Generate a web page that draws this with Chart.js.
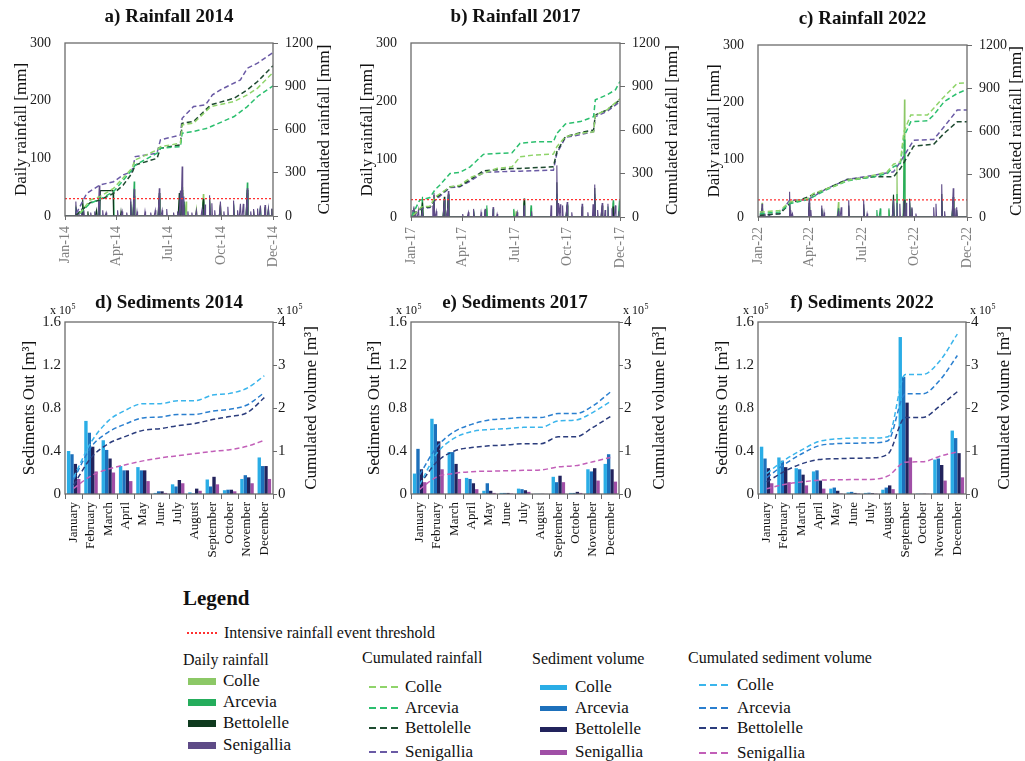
<!DOCTYPE html>
<html>
<head>
<meta charset="utf-8">
<title>Rainfall and sediments</title>
<script src="https://cdn.jsdelivr.net/npm/chart.js@4.4.1/dist/chart.umd.min.js"></script>
<style>
  body { margin: 0; background: #fff; }
  #page { position: relative; width: 1025px; height: 761px; overflow: hidden;
          font-family: "Liberation Serif", "Times New Roman", serif; color: #111; }
  #page canvas { position: absolute; }
  .txt { position: absolute; white-space: nowrap; font-size: 16px; line-height: 20px; }
  .item { font-size: 17px; }
  .sw { position: absolute; }
</style>
</head>
<body>
<div id="page">
  <canvas id="rain2014" width="345" height="270" style="left:0;top:0"></canvas>
  <canvas id="rain2017" width="345" height="270" style="left:345px;top:0"></canvas>
  <canvas id="rain2022" width="335" height="270" style="left:690px;top:0"></canvas>
  <canvas id="sed2014" width="345" height="300" style="left:0;top:270px"></canvas>
  <canvas id="sed2017" width="345" height="300" style="left:345px;top:270px"></canvas>
  <canvas id="sed2022" width="335" height="300" style="left:690px;top:270px"></canvas>
  <div id="legend"></div>
</div>
<script>
const FONT = '"Liberation Serif", "Times New Roman", serif';

// stazioni e categorie
const stations = ['Colle', 'Arcevia', 'Bettolelle', 'Senigallia'];
const months = ['January', 'February', 'March', 'April', 'May', 'June', 'July',
                'August', 'September', 'October', 'November', 'December'];
const rainTickDays = [0, 90, 181, 273, 364];
const rainTicks2014 = ['Jan-14', 'Apr-14', 'Jul-14', 'Oct-14', 'Dec-14'];
const rainTicks2017 = ['Jan-17', 'Apr-17', 'Jul-17', 'Oct-17', 'Dec-17'];
const rainTicks2022 = ['Jan-22', 'Apr-22', 'Jul-22', 'Oct-22', 'Dec-22'];
const threshold = 30; // mm, soglia evento intenso

// colori
const dailyColors = ['#8cc866', '#25ad5c', '#0e3a1e', '#5e4b87'];
const cumRainColors = ['#8fd46a', '#2bbf6e', '#1e4a30', '#6a5aa5'];
const sedColors = ['#2aade6', '#1d70bb', '#22235c', '#a04fa6'];
const cumSedColors = ['#3ab5ec', '#2a7fcf', '#2b3c7c', '#c25fb8'];

// pioggia giornaliera: [giorno, mm] oppure [da, a, mm]
const daily2014Colle = [[19,18],[31,22],[60,35],[121,45],[165,35],[205,50],[212,25],[230,13],[242,38],[253,30],[272,20],[319,40],[350,12]];
const daily2014Arcevia = [[19,15],[31,20],[60,30],[85,40],[115,20],[121,60],[165,30],[205,40],[209,25],[242,25],[253,25],[295,22],[319,58],[342,15],[356,12]];
const daily2014Bettolelle = [[20,10],[31,29],[40,8],[55,10],[62,84,44],[98,8],[115,25],[121,35],[165,40],[200,40],[205,45],[208,20],[242,30],[253,30],[272,20],[295,20],[319,45],[330,10],[350,15],[362,12]];
const daily2014Senigallia = [[19,25],[24,8],[29,13],[33,10],[45,6],[52,8],[60,53],[66,10],[72,6],[92,10],[100,8],[108,6],[115,30],[121,47],[126,8],[140,8],[150,6],[158,10],[165,48],[170,10],[178,12],[190,6],[197,8],[202,44],[205,86],[208,34],[215,8],[222,6],[230,10],[240,12],[245,20],[253,36],[257,22],[262,10],[272,25],[278,8],[285,16],[295,27],[302,10],[307,21],[312,21],[319,48],[325,8],[330,12],[337,13],[342,18],[350,19],[356,14],[362,13]];

const daily2017Colle = [[5,10],[20,30],[40,25],[58,28],[65,30],[132,15],[179,12],[183,10],[197,28],[209,16],[254,30],[320,35],[352,25],[364,20]];
const daily2017Arcevia = [[5,12],[20,35],[40,30],[58,30],[65,38],[109,12],[132,20],[143,14],[179,14],[197,25],[209,20],[254,40],[272,22],[320,40],[343,18],[352,29],[363,29]];
const daily2017Bettolelle = [[5,15],[20,25],[40,38],[58,35],[65,40],[109,10],[129,12],[197,32],[254,60],[272,20],[298,18],[320,50],[333,20],[352,18]];
const daily2017Senigallia = [[3,12],[5,18],[8,10],[13,12],[20,10],[38,20],[40,42],[44,10],[58,30],[63,10],[65,45],[90,5],[100,8],[109,14],[122,8],[129,14],[143,17],[150,5],[185,8],[197,20],[210,10],[244,20],[254,89],[257,24],[260,22],[264,20],[272,26],[280,8],[298,23],[308,8],[317,22],[320,56],[325,12],[333,24],[338,12],[343,23],[350,15],[356,20],[362,10]];

const daily2022Colle = [[7,25],[55,18],[89,15],[140,26],[184,12],[228,12],[242,90],[255,205],[264,20],[320,25],[340,28]];
const daily2022Arcevia = [[7,12],[55,20],[89,18],[111,12],[140,15],[184,15],[207,12],[213,15],[228,15],[236,30],[242,40],[255,135],[264,25],[320,30],[340,30]];
const daily2022Bettolelle = [[7,15],[55,30],[89,25],[111,15],[158,20],[184,22],[236,39],[255,30],[264,32],[268,15],[320,40],[340,35],[346,12]];
const daily2022Senigallia = [[5,10],[7,23],[12,6],[20,4],[55,44],[57,12],[60,6],[89,32],[92,12],[111,20],[115,8],[140,10],[145,17],[158,29],[184,30],[190,6],[236,30],[242,25],[247,23],[254,30],[258,25],[264,30],[268,17],[275,6],[306,17],[310,23],[320,57],[325,10],[340,50],[343,15],[346,17]];

// pioggia cumulata: [giorno, mm]
const cum2014Colle = [[26,18],[44,111],[61,134],[85,192],[117,331],[123,389],[161,458],[167,481],[202,505],[205,632],[225,644],[255,759],[296,794],[319,840],[337,887],[364,995]];
const cum2014Arcevia = [[26,18],[44,88],[61,116],[85,169],[117,319],[123,354],[161,435],[167,470],[202,481],[205,574],[225,586],[249,609],[296,690],[319,759],[337,829],[364,903]];
const cum2014Bettolelle = [[20,7],[44,92],[61,111],[85,157],[102,215],[117,296],[123,354],[161,400],[167,470],[202,493],[205,643],[225,655],[255,771],[296,817],[319,875],[337,933],[364,1042]];
const cum2014Senigallia = [[20,18],[38,157],[61,215],[85,238],[102,285],[117,308],[123,412],[161,435],[167,528],[202,562],[205,678],[225,759],[246,771],[258,840],[272,875],[307,944],[319,1025],[337,1060],[364,1134]];

const cum2017Colle = [[4,12],[18,69],[33,74],[42,138],[68,208],[85,219],[106,277],[126,300],[149,335],[176,346],[190,415],[213,427],[248,434],[254,485],[269,554],[295,577],[318,588],[321,704],[341,738],[364,815]];
const cum2017Arcevia = [[1,5],[15,115],[33,134],[42,189],[50,219],[68,300],[85,307],[103,346],[126,432],[149,438],[176,443],[190,508],[219,519],[248,519],[254,577],[269,642],[295,658],[318,692],[321,808],[341,842],[356,877],[364,935]];
const cum2017Bettolelle = [[4,12],[18,65],[33,69],[42,127],[68,208],[85,212],[106,265],[126,318],[176,335],[190,335],[248,346],[254,450],[269,554],[295,582],[318,600],[321,704],[341,738],[364,808]];
const cum2017Senigallia = [[4,12],[18,58],[33,65],[42,115],[68,203],[85,208],[106,254],[126,307],[176,316],[190,316],[248,323],[254,438],[269,549],[295,568],[318,588],[321,692],[341,727],[364,796]];

const cum2022Colle = [[3,35],[38,45],[55,105],[87,128],[96,163],[120,198],[137,221],[155,256],[178,268],[201,291],[225,315],[236,368],[248,385],[254,594],[266,711],[295,711],[306,758],[324,839],[347,932],[364,937]];
const cum2022Arcevia = [[3,23],[38,35],[55,93],[87,121],[120,191],[155,252],[201,280],[225,303],[236,350],[248,373],[254,559],[266,664],[295,671],[306,711],[324,804],[347,862],[364,890]];
const cum2022Bettolelle = [[3,12],[38,23],[55,93],[87,140],[120,198],[155,261],[201,280],[236,280],[248,338],[271,494],[306,508],[324,583],[347,664],[364,664]];
const cum2022Senigallia = [[3,12],[38,23],[55,117],[87,121],[120,198],[155,261],[201,291],[236,315],[248,385],[271,536],[306,541],[324,629],[347,746],[364,746]];

// sedimenti mensili (x 10^5 m3)
const sed2014Colle = [0.40,0.68,0.50,0.26,0.25,0.01,0.09,0.015,0.135,0.035,0.14,0.34];
const sed2014Arcevia = [0.37,0.57,0.41,0.22,0.22,0.025,0.07,0.005,0.07,0.04,0.175,0.26];
const sed2014Bettolelle = [0.28,0.44,0.33,0.22,0.22,0.025,0.13,0.05,0.16,0.04,0.155,0.26];
const sed2014Senigallia = [0.14,0.21,0.20,0.12,0.12,0.01,0.10,0.03,0.09,0.025,0.10,0.14];

const sed2017Colle = [0.19,0.70,0.39,0.15,0.03,0.01,0.05,0.002,0.16,0.01,0.23,0.28];
const sed2017Arcevia = [0.42,0.65,0.39,0.14,0.10,0.01,0.045,0.002,0.11,0.01,0.21,0.37];
const sed2017Bettolelle = [0.23,0.49,0.28,0.10,0.03,0.01,0.035,0.002,0.17,0.02,0.24,0.23];
const sed2017Senigallia = [0.11,0.23,0.14,0.045,0.01,0.005,0.02,0.001,0.11,0.01,0.125,0.115];

const sed2022Colle = [0.44,0.34,0.24,0.21,0.05,0.015,0.01,0.04,1.46,0.003,0.32,0.59];
const sed2022Arcevia = [0.33,0.31,0.23,0.22,0.06,0.02,0.012,0.06,1.09,0.003,0.33,0.52];
const sed2022Bettolelle = [0.24,0.25,0.18,0.125,0.03,0.01,0.008,0.08,0.85,0.003,0.27,0.38];
const sed2022Senigallia = [0.10,0.11,0.08,0.05,0.005,0.005,0.003,0.045,0.34,0.002,0.125,0.155];

// volume cumulato (x 10^5 m3)
const cumSed2014Colle = [0.39,1.20,1.70,1.95,2.10,2.10,2.17,2.17,2.30,2.34,2.46,2.75];
const cumSed2014Arcevia = [0.34,1.09,1.44,1.63,1.77,1.79,1.85,1.85,1.93,1.97,2.07,2.36];
const cumSed2014Bettolelle = [0.21,0.84,1.17,1.34,1.48,1.52,1.59,1.64,1.73,1.80,1.89,2.24];
const cumSed2014Senigallia = [0.13,0.42,0.58,0.68,0.77,0.84,0.89,0.94,0.99,1.03,1.11,1.25];

const cumSed2017Colle = [0.22,0.95,1.30,1.45,1.50,1.52,1.55,1.55,1.70,1.72,1.90,2.15];
const cumSed2017Arcevia = [0.45,1.10,1.45,1.62,1.72,1.75,1.78,1.78,1.87,1.87,2.05,2.37];
const cumSed2017Bettolelle = [0.22,0.75,1.00,1.08,1.12,1.14,1.17,1.17,1.33,1.33,1.55,1.80];
const cumSed2017Senigallia = [0.11,0.40,0.48,0.52,0.53,0.54,0.55,0.56,0.63,0.66,0.75,0.85];

const cumSed2022Colle = [0.48,0.78,1.02,1.22,1.28,1.30,1.30,1.33,2.78,2.78,3.10,3.72];
const cumSed2022Arcevia = [0.38,0.68,0.93,1.12,1.17,1.18,1.19,1.24,2.33,2.33,2.65,3.22];
const cumSed2022Bettolelle = [0.28,0.52,0.70,0.80,0.82,0.83,0.84,0.93,1.78,1.78,2.05,2.38];
const cumSed2022Senigallia = [0.12,0.22,0.28,0.32,0.33,0.335,0.34,0.42,0.74,0.75,0.88,0.98];

// serie giornaliera: zero dove non ci sono eventi
function dailySeries(events) {
    const days = new Array(365).fill(0);
    events.forEach(ev => {
        if (ev.length === 3) {
            for (let d = ev[0]; d <= ev[1]; d++) days[d] = ev[2];
        } else {
            days[ev[0]] = ev[1];
        }
    });
    return days.map((mm, d) => ({x: d, y: mm}));
}

// cornice attorno all'area del grafico
const framePlugin = {
    id: 'frame',
    afterDatasetsDraw(chart) {
        const {ctx, chartArea: a} = chart;
        ctx.save();
        ctx.strokeStyle = '#6b6b6b';
        ctx.lineWidth = 1.3;
        ctx.strokeRect(a.left, a.top, a.right - a.left, a.bottom - a.top);
        ctx.restore();
    }
};

function rotText(ctx, text, x, y) {
    ctx.save();
    ctx.translate(x, y);
    ctx.rotate(-Math.PI / 2);
    ctx.fillText(text, 0, 0);
    ctx.restore();
}

// "x 10^5" sopra gli assi; x0 = bordo sinistro del testo
function expLabel(ctx, x0, y) {
    ctx.textAlign = 'left';
    ctx.font = '12px ' + FONT;
    const w = ctx.measureText('x 10').width;
    ctx.fillText('x 10', x0, y);
    ctx.font = '8px ' + FONT;
    ctx.fillText('5', x0 + w + 0.5, y - 5);
}

// titoli del pannello e degli assi
const panelText = {
    id: 'panelText',
    afterDraw(chart, args, o) {
        const {ctx, chartArea: a} = chart;
        const midY = (a.top + a.bottom) / 2;
        ctx.save();
        ctx.fillStyle = '#111';
        ctx.textAlign = 'center';
        ctx.textBaseline = 'middle';
        ctx.font = 'bold 19px ' + FONT;
        ctx.fillText(o.title, (a.left + a.right) / 2, a.top + o.titleDy);
        ctx.font = '17px ' + FONT;
        rotText(ctx, o.leftTitle, a.left + o.leftDx, midY);
        rotText(ctx, o.rightTitle, a.right + o.rightDx, midY);
        if (o.exponent) {
            ctx.textBaseline = 'alphabetic';
            expLabel(ctx, a.left - 15, a.top - 8);
            expLabel(ctx, a.right + 4, a.top - 8);
        }
        ctx.restore();
    }
};

const plainNumber = v => String(v);

function rainChart(id, title, daily, cum, tickLabels, lay) {
    const datasets = [{
        data: [{x: 0, y: threshold}, {x: 364, y: threshold}],
        borderColor: '#ff3030', borderWidth: 1.2, borderDash: [2, 2], order: 0
    }];
    cum.forEach((pts, i) => datasets.push({
        data: pts.map(p => ({x: p[0], y: p[1]})),
        yAxisID: 'y2', borderColor: cumRainColors[i], borderWidth: 1.5,
        borderDash: [5, 3], order: 1
    }));
    daily.forEach((ev, i) => datasets.push({
        data: dailySeries(ev), borderColor: dailyColors[i], borderWidth: 1.1,
        order: 5 - i
    }));

    new Chart(document.getElementById(id), {
        type: 'line',
        data: {datasets},
        options: {
            responsive: false,
            animation: false,
            devicePixelRatio: 1,
            parsing: false,
            layout: {padding: {top: lay.top, left: 0, right: 0, bottom: 0}},
            elements: {point: {radius: 0}, line: {tension: 0, fill: false}},
            plugins: {
                legend: {display: false},
                tooltip: {enabled: false},
                panelText: {title, titleDy: -26, leftTitle: 'Daily rainfall [mm]',
                            rightTitle: 'Cumulated rainfall [mm]', leftDx: -43, rightDx: lay.rightDx}
            },
            scales: {
                x: {
                    type: 'linear', min: 0, max: 364,
                    afterBuildTicks: s => { s.ticks = rainTickDays.map(v => ({value: v})); },
                    afterFit: s => { s.height = lay.bottom; },
                    ticks: {autoSkip: false, minRotation: 90, maxRotation: 90, padding: 6,
                            color: '#808080', font: {family: FONT, size: 14},
                            callback: (v, i) => tickLabels[i]},
                    grid: {drawOnChartArea: false, tickLength: 4, color: '#6b6b6b'},
                    border: {display: false}
                },
                y: {
                    min: 0, max: 300,
                    afterFit: s => { s.width = lay.left; },
                    ticks: {stepSize: 100, padding: 14, color: '#1a1a1a', font: {family: FONT, size: 14},
                            callback: plainNumber},
                    grid: {display: false, drawTicks: false},
                    border: {display: false}
                },
                y2: {
                    position: 'right', min: 0, max: 1200,
                    afterFit: s => { s.width = lay.right; },
                    ticks: {stepSize: 300, padding: 7, color: '#1a1a1a', font: {family: FONT, size: 14},
                            callback: plainNumber},
                    grid: {drawOnChartArea: false, tickLength: 5, color: '#6b6b6b'},
                    border: {display: false}
                }
            }
        },
        plugins: [framePlugin, panelText]
    });
}

function sedChart(id, title, monthly, cum, lay) {
    const datasets = [];
    cum.forEach((vals, i) => datasets.push({
        type: 'line', label: stations[i] + ' cum', data: vals, yAxisID: 'y2',
        borderColor: cumSedColors[i], borderWidth: 1.5, borderDash: [5, 3],
        cubicInterpolationMode: 'monotone', pointRadius: 0, fill: false, order: 0
    }));
    monthly.forEach((vals, i) => datasets.push({
        type: 'bar', label: stations[i], data: vals, yAxisID: 'y',
        backgroundColor: sedColors[i], categoryPercentage: 0.78, barPercentage: 1.0, order: 1
    }));

    new Chart(document.getElementById(id), {
        type: 'bar',
        data: {labels: months, datasets},
        options: {
            responsive: false,
            animation: false,
            devicePixelRatio: 1,
            layout: {padding: {top: lay.top, left: 0, right: 0, bottom: 0}},
            plugins: {
                legend: {display: false},
                tooltip: {enabled: false},
                panelText: {title, titleDy: -19, leftTitle: 'Sediments Out [m³]',
                            rightTitle: 'Cumulated volume [m³]', leftDx: lay.leftDx,
                            rightDx: lay.rightDx, exponent: true}
            },
            scales: {
                x: {
                    afterFit: s => { s.height = lay.bottom; },
                    ticks: {autoSkip: false, minRotation: 90, maxRotation: 90, padding: 3,
                            color: '#111', font: {family: FONT, size: 13}},
                    grid: {drawOnChartArea: false, tickLength: 5, color: '#6b6b6b', offset: true},
                    border: {display: false}
                },
                y: {
                    min: 0, max: 1.6,
                    afterFit: s => { s.width = lay.left; },
                    ticks: {stepSize: 0.4, padding: 4, color: '#1a1a1a', font: {family: FONT, size: 15},
                            callback: v => v === 0 ? '0' : v.toFixed(1)},
                    grid: {display: false, drawTicks: false},
                    border: {display: false}
                },
                y2: {
                    position: 'right', min: 0, max: 4,
                    afterFit: s => { s.width = lay.right; },
                    ticks: {stepSize: 1, padding: 1, color: '#1a1a1a', font: {family: FONT, size: 15}},
                    grid: {drawOnChartArea: false, tickLength: 4, color: '#6b6b6b'},
                    border: {display: false}
                }
            }
        },
        plugins: [framePlugin, panelText]
    });
}

rainChart('rain2014', 'a) Rainfall 2014',
    [daily2014Colle, daily2014Arcevia, daily2014Bettolelle, daily2014Senigallia],
    [cum2014Colle, cum2014Arcevia, cum2014Bettolelle, cum2014Senigallia],
    rainTicks2014, {top: 43, bottom: 54, left: 65, right: 72, rightDx: 52});
rainChart('rain2017', 'b) Rainfall 2017',
    [daily2017Colle, daily2017Arcevia, daily2017Bettolelle, daily2017Senigallia],
    [cum2017Colle, cum2017Arcevia, cum2017Bettolelle, cum2017Senigallia],
    rainTicks2017, {top: 43, bottom: 53, left: 66, right: 70, rightDx: 53});
rainChart('rain2022', 'c) Rainfall 2022',
    [daily2022Colle, daily2022Arcevia, daily2022Bettolelle, daily2022Senigallia],
    [cum2022Colle, cum2022Arcevia, cum2022Bettolelle, cum2022Senigallia],
    rainTicks2022, {top: 45, bottom: 53, left: 68, right: 58, rightDx: 50});

sedChart('sed2014', 'd) Sediments 2014',
    [sed2014Colle, sed2014Arcevia, sed2014Bettolelle, sed2014Senigallia],
    [cumSed2014Colle, cumSed2014Arcevia, cumSed2014Bettolelle, cumSed2014Senigallia],
    {top: 52, bottom: 76, left: 65, right: 72, leftDx: -35, rightDx: 39});
sedChart('sed2017', 'e) Sediments 2017',
    [sed2017Colle, sed2017Arcevia, sed2017Bettolelle, sed2017Senigallia],
    [cumSed2017Colle, cumSed2017Arcevia, cumSed2017Bettolelle, cumSed2017Senigallia],
    {top: 52, bottom: 76, left: 66, right: 71, leftDx: -36, rightDx: 41});
sedChart('sed2022', 'f) Sediments 2022',
    [sed2022Colle, sed2022Arcevia, sed2022Bettolelle, sed2022Senigallia],
    [cumSed2022Colle, cumSed2022Arcevia, cumSed2022Bettolelle, cumSed2022Senigallia],
    {top: 52, bottom: 76, left: 68, right: 59, leftDx: -35, rightDx: 39});

// legenda in HTML
const legend = document.getElementById('legend');
function addText(text, left, cy, cls, style) {
    const d = document.createElement('div');
    d.className = 'txt ' + (cls || '');
    d.textContent = text;
    d.style.left = left + 'px';
    d.style.top = (cy - 10) + 'px';
    if (style) Object.assign(d.style, style);
    legend.appendChild(d);
}
function addSwatch(left, cy, w, h, bg) {
    const d = document.createElement('div');
    d.className = 'sw';
    d.style.left = left + 'px';
    d.style.top = (cy - h / 2) + 'px';
    d.style.width = w + 'px';
    d.style.height = h + 'px';
    d.style.background = bg;
    legend.appendChild(d);
}
const dash = c => `repeating-linear-gradient(90deg, ${c} 0 7px, transparent 7px 11px)`;

addText('Legend', 183, 598, '', {fontWeight: 'bold', fontSize: '21px'});
addSwatch(187, 633, 31, 2, 'repeating-linear-gradient(90deg, #ff3030 0 2px, transparent 2px 4px)');
addText('Intensive rainfall event threshold', 224, 633);

addText('Daily rainfall', 183, 660);
addText('Cumulated rainfall', 362, 658);
addText('Sediment volume', 532, 659);
addText('Cumulated sediment volume', 688, 658);

const dailyY = [681, 702, 723, 745];
const cumRainY = [687, 708, 728, 752];
const sedY = [687, 708, 729, 752];
const cumSedY = [685, 708, 728, 753];
stations.forEach((name, i) => {
    addSwatch(188, dailyY[i], 28, 7, dailyColors[i]);
    addText(name, 223, dailyY[i], 'item');
    addSwatch(369, cumRainY[i], 30, 2, dash(cumRainColors[i]));
    addText(name, 405, cumRainY[i], 'item');
    addSwatch(540, sedY[i], 27, 5, sedColors[i]);
    addText(name, 575, sedY[i], 'item');
    addSwatch(699, cumSedY[i], 29, 2, dash(cumSedColors[i]));
    addText(name, 737, cumSedY[i], 'item');
});
</script>
</body>
</html>
